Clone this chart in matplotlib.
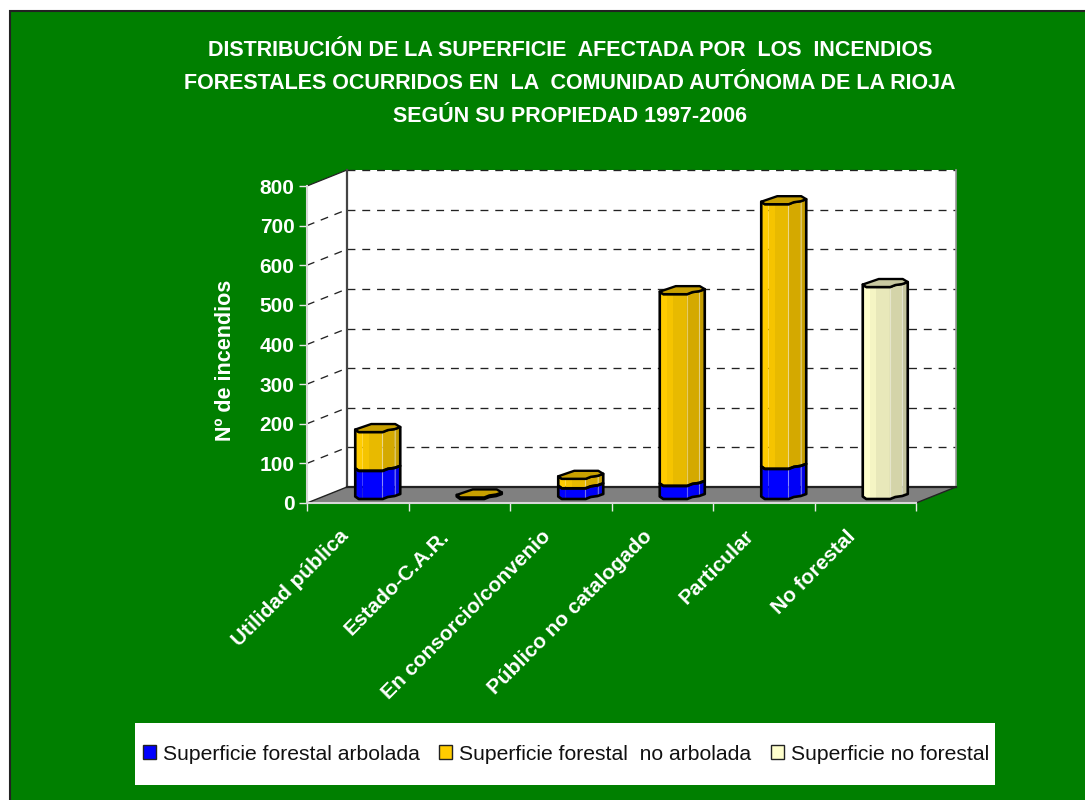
import matplotlib
matplotlib.use("Agg")
import numpy as np
import matplotlib.pyplot as plt
from matplotlib.patches import Polygon, Rectangle

plt.rcParams['font.family'] = ['Liberation Sans', 'DejaVu Sans']

# datos
categorias = ['Utilidad pública', 'Estado-C.A.R.', 'En consorcio/convenio',
              'Público no catalogado', 'Particular', 'No forestal']
arbolada = [71, 0, 27, 33, 76, 0]
no_arbolada = [98, 4, 24, 484, 668, 0]
no_forestal = [0, 0, 0, 0, 0, 535]
series = ['Superficie forestal arbolada', 'Superficie forestal  no arbolada',
          'Superficie no forestal']
titulo = ('DISTRIBUCIÓN DE LA SUPERFICIE  AFECTADA POR  LOS  INCENDIOS\n'
          'FORESTALES OCURRIDOS EN  LA  COMUNIDAD AUTÓNOMA DE LA RIOJA\n'
          'SEGÚN SU PROPIEDAD 1997-2006')
y_ticks = [0, 100, 200, 300, 400, 500, 600, 700, 800]

VERDE = '#007f00'
W, H = 1085, 800
# escala del eje en pixeles
PX_X = 609 / 6
PX_Y = 317 / 800
# desplazamiento de la profundidad (perspectiva)
DX = 40 / PX_X
DY = 16 / PX_Y


def prof(x, y, d):
    return x + DX * d, y + DY * d


fig = plt.figure(figsize=(W / 100, H / 100), dpi=100, facecolor='white')
fig.patches.append(Rectangle((9.5 / W, -0.01), 1.1, 1 - 10.5 / H + 0.01, transform=fig.transFigure,
                             facecolor=VERDE, edgecolor='#222222', lw=1.5, zorder=-5))
fig.patches.append(Rectangle((135 / W, 1 - 785 / H), 860 / W, 62 / H, transform=fig.transFigure,
                             facecolor='white', edgecolor='none', zorder=-4))

ax = fig.add_axes([307 / W, (H - 503) / H, 609 / W, 317 / H])
ax.set_xlim(0, 6)
ax.set_ylim(0, 800)
ax.patch.set_visible(False)

# paredes y suelo
ax.add_patch(Polygon([prof(0, 0, 0), prof(0, 0, 1), prof(0, 800, 1), prof(0, 800, 0)],
                     fc='white', ec='none', zorder=1, clip_on=False))
ax.add_patch(Polygon([prof(0, 0, 1), prof(6, 0, 1), prof(6, 800, 1), prof(0, 800, 1)],
                     fc='white', ec='none', zorder=1, clip_on=False))
ax.add_patch(Polygon([prof(0, 0, 0), prof(6, 0, 0), prof(6, 0, 1), prof(0, 0, 1)],
                     fc='#808080', ec='none', zorder=2, clip_on=False))


def linea(p, q, **kw):
    ax.plot([p[0], q[0]], [p[1], q[1]], clip_on=False, **kw)


for v in y_ticks[1:]:
    estilo = dict(color='#222222', lw=0.95, ls=(0, (6, 5.2)), zorder=3)
    if v < 800:
        linea(prof(0, v, 0), prof(0, v, 1), **estilo)
    linea(prof(0, v, 1), prof(6, v, 1), **estilo)
linea(prof(0, 800, 0), prof(0, 800, 1), color='#222222', lw=0.9, zorder=3)
linea(prof(0, 0, 1), prof(0, 800, 1), color='#444444', lw=1.6, zorder=3)
linea(prof(6, 0, 1), prof(6, 800, 1), color='#999999', lw=1.2, zorder=3)
linea(prof(0, 0, 1), prof(6, 0, 1), color='#222222', lw=1.6, zorder=3)
linea(prof(0, 0, 0), prof(0, 0, 1), color='#222222', lw=1, zorder=3)
linea(prof(6, 0, 0), prof(6, 0, 1), color='#222222', lw=1, zorder=3)

# contorno de la base de la barra, en pixeles respecto a su centro
frente_x = np.array([-22.5, -19, 5, 10, 17, 22.5])
frente_y = np.array([1.5, 4, 4, 2, 1, -1])
fondo_x = np.array([22.5, 17.5, -6.5, -22.5])
fondo_y = np.array([-1, -4, -4, 1.5])
bandas = np.array([-22.5, -15, -9, 4.5, 17, 22.5])
sombra_clara = [1.0, 0.96, 0.91, 0.83, 0.77]
sombra_azul = [1.0, 1.0, 1.0, 0.97, 0.9]


def oscurece(color, f):
    return tuple(min(1, c * f) for c in matplotlib.colors.to_rgb(color))


def tramo(i, base, alto, color, tapa, sombra):
    cx = i + 0.5 + DX * 0.5
    cy = DY * 0.5
    fx = lambda px: cx + px / PX_X
    perfil = lambda px: np.interp(px, frente_x, frente_y) / PX_Y
    for k in range(len(bandas) - 1):
        xs = np.array(sorted(set([bandas[k], bandas[k + 1]] +
                                 [p for p in frente_x if bandas[k] < p < bandas[k + 1]])))
        abajo = [(fx(x), cy + base - perfil(x)) for x in xs]
        arriba = [(fx(x), cy + base + alto - perfil(x)) for x in xs[::-1]]
        ax.add_patch(Polygon(abajo + arriba, fc=oscurece(color, sombra[k]), ec='none',
                             zorder=5, clip_on=False))
    # aristas claras
    for px in (4.5, 17):
        ax.plot([fx(px)] * 2, [cy + base - perfil(px), cy + base + alto - perfil(px)],
                color='#ffffff', alpha=0.4, lw=0.8, zorder=6, clip_on=False)
    borde = [(fx(x), cy + base - perfil(x)) for x in frente_x]
    borde += [(fx(x), cy + base + alto - perfil(x)) for x in frente_x[::-1]]
    ax.add_patch(Polygon(borde, fc='none', ec='black', lw=1.9, zorder=7, clip_on=False,
                         joinstyle='round'))
    if tapa is not None:
        px_tapa = np.concatenate([frente_x, fondo_x[1:]])
        py_tapa = np.concatenate([frente_y, fondo_y[1:]])
        puntos = [(fx(x), cy + base + alto - y / PX_Y) for x, y in zip(px_tapa, py_tapa)]
        ax.add_patch(Polygon(puntos, fc=tapa, ec='black', lw=1.7, zorder=8, clip_on=False,
                             joinstyle='round'))


for i in range(len(categorias)):
    base = 0
    if arbolada[i] > 0:
        tramo(i, base, arbolada[i], '#0000ff', None, sombra_azul)
        base += arbolada[i]
    if no_arbolada[i] > 0:
        tramo(i, base, no_arbolada[i], '#ffcc00', '#c8a000', sombra_clara)
        base += no_arbolada[i]
    if no_forestal[i] > 0:
        tramo(i, base, no_forestal[i], '#ffffcc', '#c8c8a0', sombra_clara)

# ejes
for lado in ('top', 'right'):
    ax.spines[lado].set_visible(False)
for lado in ('left', 'bottom'):
    ax.spines[lado].set_color('#d8d8d8')
    ax.spines[lado].set_linewidth(1.5)
    ax.spines[lado].set_zorder(4)
ax.set_yticks(y_ticks)
ax.set_xticks(range(7))
ax.set_xticklabels([])
ax.set_xticks(np.arange(len(categorias)) + 0.31, minor=True)
ax.set_xticklabels(categorias, minor=True, rotation=45, ha='right', va='top',
                   rotation_mode='anchor', color='white', fontsize=15, fontweight='bold')
ax.tick_params(axis='x', which='major', color='#e8e8e8', length=5.5, width=1)
ax.tick_params(axis='x', which='minor', length=0, pad=17)
ax.tick_params(axis='y', color='#e8e8e8', length=6, width=1, labelcolor='white',
               labelsize=15, pad=3)
for t in ax.get_yticklabels():
    t.set_fontweight('bold')
ax.set_ylabel('Nº de incendios', color='white', fontsize=15.5, fontweight='bold')
ax.yaxis.set_label_coords((236 - 307) / 609, (503 - 360.5) / 317)

fig.text(570 / W, 1 - 83.5 / H, titulo, color='white', fontsize=15.5, fontweight='bold',
         ha='center', va='center', linespacing=1.75)

# leyenda
manijas = [Rectangle((0, 0), 1, 1, fc=c, ec='#222222', lw=1)
           for c in ('#0000ff', '#ffcc00', '#ffffcc')]
ley = fig.legend(manijas, series, ncol=3, loc='center', bbox_to_anchor=(566 / W, 1 - 754 / H),
                 frameon=False, fontsize=15.2, handlelength=0.62, handleheight=0.62,
                 handletextpad=0.34, columnspacing=0.9, borderpad=0, borderaxespad=0)
for t in ley.get_texts():
    t.set_color('#111111')

fig.savefig('out.png', dpi=100, facecolor='white')
